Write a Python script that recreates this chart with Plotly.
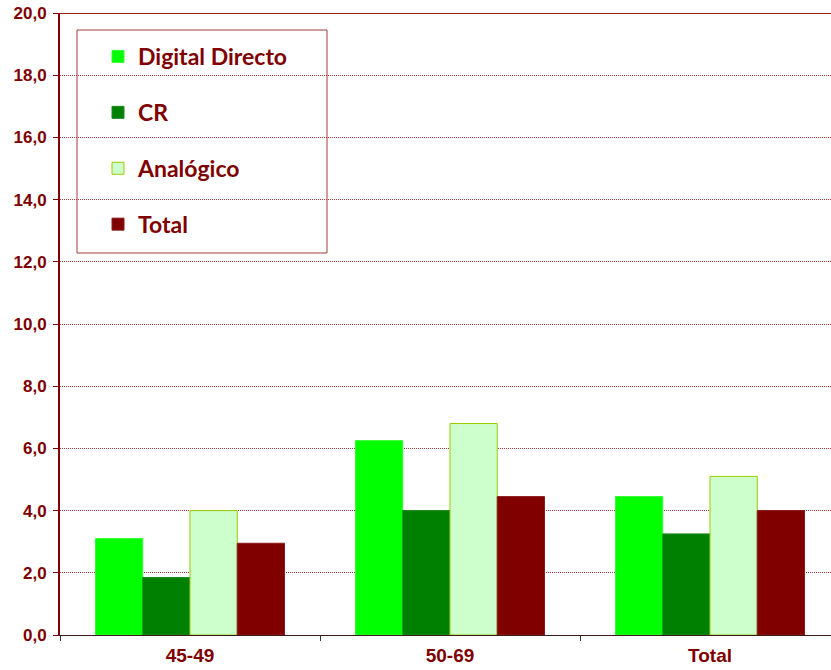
import plotly.graph_objects as go

categories = ["45-49", "50-69", "Total"]
digital_directo = [3.1, 6.25, 4.45]
cr = [1.85, 4.0, 3.25]
analogico = [4.0, 6.8, 5.1]
total = [2.95, 4.45, 4.0]

series_names = ["Digital Directo", "CR", "Analógico", "Total"]
series_values = [digital_directo, cr, analogico, total]
fill_colors = ["#00FF00", "#008000", "#CCFFCC", "#800000"]
line_colors = ["#33FF33", "#1A8A1A", "#99CC00", "#8C1A1A"]

DARK_RED = "#800000"

W, H = 831, 670
plot_left, plot_right, plot_top, plot_bottom = 60, 831, 13, 635
ml, mr, mt, mb = plot_left, W - plot_right, plot_top, H - plot_bottom
pw = W - ml - mr
ph = H - mt - mb


def px_x(sx):
    return (sx - plot_left) / pw


def px_y(sy):
    return (plot_bottom - sy) / ph


fig = go.Figure()
for i, (name, vals) in enumerate(zip(series_names, series_values)):
    fig.add_trace(go.Bar(
        x=categories, y=vals, name=name,
        marker=dict(color=fill_colors[i], line=dict(color=line_colors[i], width=1)),
        legendgroup=f"g{i}",
    ))

fig.update_layout(
    width=W, height=H,
    margin=dict(l=ml, r=mr, t=mt, b=mb, autoexpand=False),
    paper_bgcolor="white", plot_bgcolor="white",
    barmode="group", bargap=0.273, bargroupgap=0,
    separators=",.",
    showlegend=True,
    legend=dict(
        x=px_x(98), y=px_y(35), xanchor="left", yanchor="top",
        bgcolor="rgba(0,0,0,0)", borderwidth=0,
        font=dict(family="Lato", size=23, color=DARK_RED, weight="bold"),
        traceorder="grouped", tracegroupgap=23, itemwidth=30,
    ),
    xaxis=dict(
        type="category", automargin=False,
        range=[-0.5, 2.5 - 9 / 260],
        showline=True, linecolor="#3a1a1a", linewidth=1,
        ticks="outside", tickson="boundaries", ticklen=5, tickcolor="#333333",
        ticklabelstandoff=3,
        tickfont=dict(family="Liberation Sans", size=19, color=DARK_RED, weight="bold"),
        showgrid=False,
    ),
    yaxis=dict(
        automargin=False,
        range=[0, 20], dtick=2, tickformat=".1f",
        showline=True, linecolor=DARK_RED, linewidth=2,
        ticks="outside", ticklen=5, tickcolor=DARK_RED, ticklabelstandoff=3,
        tickfont=dict(family="Liberation Sans", size=17, color=DARK_RED, weight="bold"),
        showgrid=True, gridcolor="#A33A3A", gridwidth=1, griddash="1px,1px",
        zeroline=False,
    ),
    shapes=[
        dict(type="line", xref="paper", yref="y", x0=0, x1=1, y0=20, y1=20,
             line=dict(color="#9A1F1F", width=2)),
        dict(type="rect", xref="paper", yref="paper",
             x0=px_x(77), x1=px_x(327), y0=px_y(253), y1=px_y(30),
             line=dict(color="#A33A3A", width=1), fillcolor="white", layer="below"),
    ],
)

fig.write_html("out.html", config={"displayModeBar": False},
               post_script="document.body.style.margin='0';")
